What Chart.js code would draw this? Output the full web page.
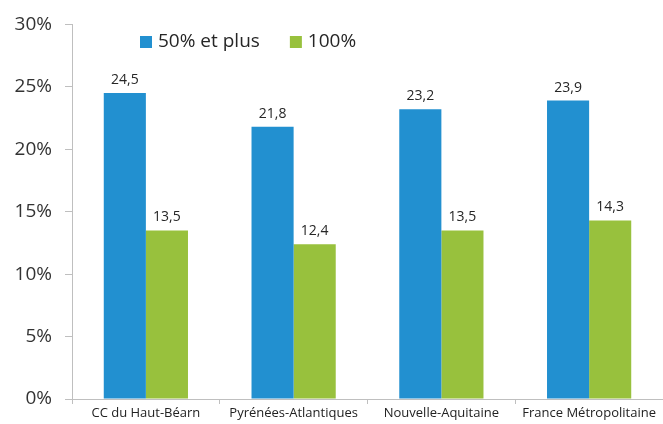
<!DOCTYPE html>
<html>
<head>
<meta charset="utf-8">
<script src="https://cdn.jsdelivr.net/npm/chart.js@4/dist/chart.umd.min.js"></script>
<style>
  html, body { margin: 0; padding: 0; background: #fff; }
  #wrap { width: 663px; height: 424px; position: relative; }
</style>
</head>
<body>
<div id="wrap"><canvas id="chart"></canvas></div>
<script>
  const categories = ['CC du Haut-Béarn', 'Pyrénées-Atlantiques', 'Nouvelle-Aquitaine', 'France Métropolitaine'];
  const seriesNames = ['50% et plus', '100%'];
  const plus50 = [24.5, 21.8, 23.2, 23.9];
  const full100 = [13.5, 12.4, 13.5, 14.3];
  const yTicks = [0, 5, 10, 15, 20, 25, 30];
  const colors = ['#2290D0', '#98C13D'];

  const FONT = '"Open Sans", "Noto Sans", sans-serif';

  // value labels above bars + legend drawn in the plot
  const labelsPlugin = {
    id: 'barLabels',
    afterDatasetsDraw(chart) {
      const ctx = chart.ctx;
      ctx.save();
      ctx.font = '14px ' + FONT;
      ctx.fillStyle = '#262626';
      ctx.textAlign = 'center';
      ctx.textBaseline = 'bottom';
      chart.data.datasets.forEach((ds, i) => {
        chart.getDatasetMeta(i).data.forEach((bar, j) => {
          const txt = ds.data[j].toFixed(1).replace('.', ',');
          ctx.fillText(txt, bar.x, bar.y - 6);
        });
      });
      // legend
      ctx.font = '19px ' + FONT;
      ctx.textAlign = 'left';
      ctx.textBaseline = 'middle';
      let x = 140;
      const y = 42;
      chart.data.datasets.forEach(ds => {
        ctx.fillStyle = ds.backgroundColor;
        ctx.fillRect(x, y - 6, 12, 12);
        ctx.fillStyle = '#262626';
        ctx.fillText(ds.label, x + 18, y);
        x += 18 + ctx.measureText(ds.label).width + 30;
      });
      ctx.restore();
    }
  };

  new Chart(document.getElementById('chart'), {
    type: 'bar',
    data: {
      labels: categories,
      datasets: [
        { label: seriesNames[0], data: plus50, backgroundColor: colors[0] },
        { label: seriesNames[1], data: full100, backgroundColor: colors[1] }
      ]
    },
    options: {
      responsive: true,
      maintainAspectRatio: false,
      animation: false,
      layout: { padding: { top: 23, right: 0, left: 0, bottom: 0 } },
      datasets: { bar: { barPercentage: 1, categoryPercentage: 0.57 } },
      plugins: {
        legend: { display: false },
        tooltip: { enabled: false }
      },
      scales: {
        x: {
          afterFit: s => { s.height = 25; },
          grid: { offset: true, drawOnChartArea: false, tickLength: 5, color: '#BFBFBF' },
          border: { color: '#BFBFBF' },
          ticks: { font: { family: FONT, size: 13 }, color: '#222', padding: 1 }
        },
        y: {
          min: 0,
          max: 30,
          afterFit: s => { s.width = 72; },
          afterBuildTicks: s => { s.ticks = yTicks.map(v => ({ value: v })); },
          grid: { drawOnChartArea: false, tickLength: 7, color: '#BFBFBF' },
          border: { color: '#BFBFBF' },
          ticks: {
            font: { family: FONT, size: 19 },
            color: '#333',
            padding: 13,
            callback: v => v + '%'
          }
        }
      }
    },
    plugins: [labelsPlugin]
  });
</script>
</body>
</html>
